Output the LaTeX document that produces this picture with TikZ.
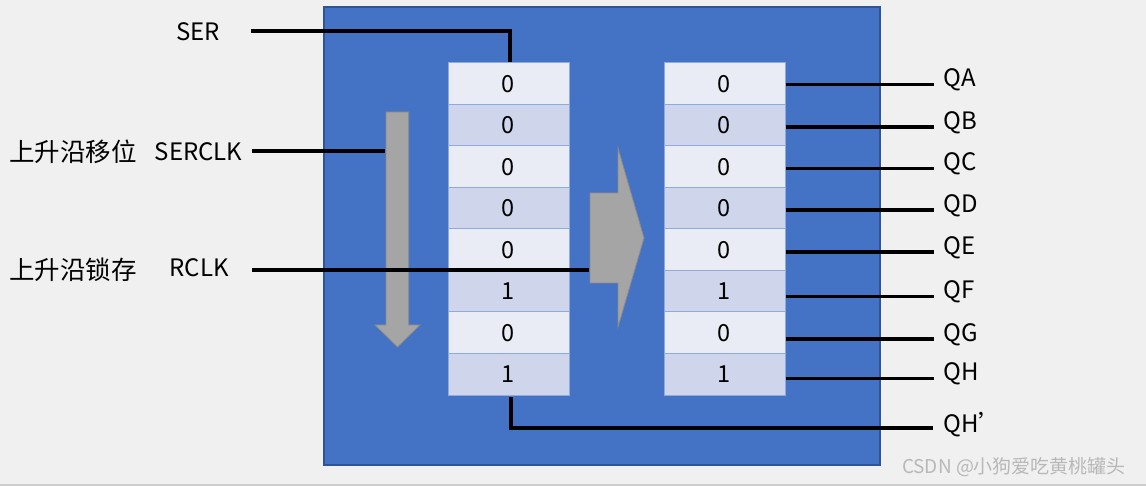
\documentclass[tikz,border=0pt]{standalone}
\usepackage{fontspec}
\setmainfont{Noto Sans CJK SC}
\usetikzlibrary{positioning}
\definecolor{pagebg}{HTML}{F0F0F0}
\definecolor{chipblue}{HTML}{4472C4}
\definecolor{chipedge}{HTML}{2F5597}
\definecolor{cellA}{HTML}{E9EBF5}
\definecolor{cellB}{HTML}{CFD5EA}
\definecolor{celledge}{HTML}{8FAADC}
\definecolor{arrowgray}{HTML}{A5A5A5}
\definecolor{arrowedge}{HTML}{8A8A8A}

\begin{document}
\begin{tikzpicture}[x=1pt, y=-1pt, font=\fontsize{24}{28}\selectfont,
    cell/.style={
        draw=celledge, line width=1pt, inner sep=0pt,
        minimum width=121pt, minimum height=41.5pt,
        font=\fontsize{23.5}{27}\selectfont
    },
    bigarrow/.style={fill=arrowgray, draw=arrowedge, line width=0.8pt},
    wire/.style={-, line width=3.2pt, black},
    lab/.style={inner sep=0pt, text=black},
    note/.style={lab, anchor=west, font=\fontsize{25.5}{30}\selectfont},
]

\useasboundingbox (0,0) rectangle (1146,486);
\fill[pagebg] (0,0) rectangle (1146,486);
\draw[black!20, line width=1.5pt] (0,485.2) -- (1146,485.2);

% ================= chip body =================
\node[draw=chipedge, line width=1.2pt, fill=chipblue, inner sep=0pt,
      minimum width=556pt, minimum height=458pt] (chip) at (602,236) {};

% ================= shift and storage registers =================
\foreach \v/\c [count=\i] in {0/cellA,0/cellB,0/cellA,0/cellB,0/cellA,1/cellB,0/cellA,1/cellB}{
    \node[cell, fill=\c] (L\i) at (508.5,{63+41.5*\i-20.75}) {\v};
    \node[cell, fill=\c] (R\i) at (724.5,{63+41.5*\i-20.75}) {\v};
}

% ================= gray arrows =================
\filldraw[bigarrow] (386,112) -- (408.7,112) -- (408.7,325) -- (420,325)
    -- (397.5,347) -- (375,325) -- (386,325) -- cycle;
\filldraw[bigarrow] (590,193) -- (618,193) -- (618,148) -- (644,238)
    -- (618,327) -- (618,283) -- (590,283) -- cycle;
\coordinate (shiftin) at (385,151);
\coordinate (latchin) at (589,270);

% ================= inputs =================
\node[lab] (ser) at (198,32) {SER};
\node[lab] (serclk) at (198.5,152) {SERCLK};
\node[lab] (rclk) at (199,268) {RCLK};
\node[note] (shiftnote) at (9,152) {上升沿移位};
\node[note] (latchnote) at (9,270) {上升沿锁存};

\coordinate (serin) at (251,31);
\coordinate (serclkin) at (252,151);
\coordinate (rclkin) at (252,270);

\draw[wire] (serin) -| ([xshift=1.5pt]L1.north);
\draw[wire] (serclkin) -- (shiftin);
\draw[wire] (rclkin) -- (latchin);

% ================= outputs =================
\foreach \q/\dy [count=\i] in {QA/1,QB/1.8,QC/2,QD/1.8,QE/2.3,QF/5.4,QG/6.3,QH/4.4}{
    \draw[wire] ([yshift=-\dy pt]R\i.east) -- ++(148,0) coordinate (o\i);
    \node[lab, anchor=west, yshift=4.5pt] (q\i) at ([xshift=10pt]o\i) {\q};
}
\coordinate (oH) at (933,428);
\draw[wire] ([xshift=2.5pt, yshift=-1.5pt]L8.south) |- (oH);
\node[lab, anchor=west, yshift=3pt] (qh) at ([xshift=10pt]oH) {QH’};

\node[lab, text=black!28, font=\fontsize{19}{22}\selectfont] (mark) at (1014,467)
    {CSDN @小狗爱吃黄桃罐头};

\end{tikzpicture}
\end{document}
